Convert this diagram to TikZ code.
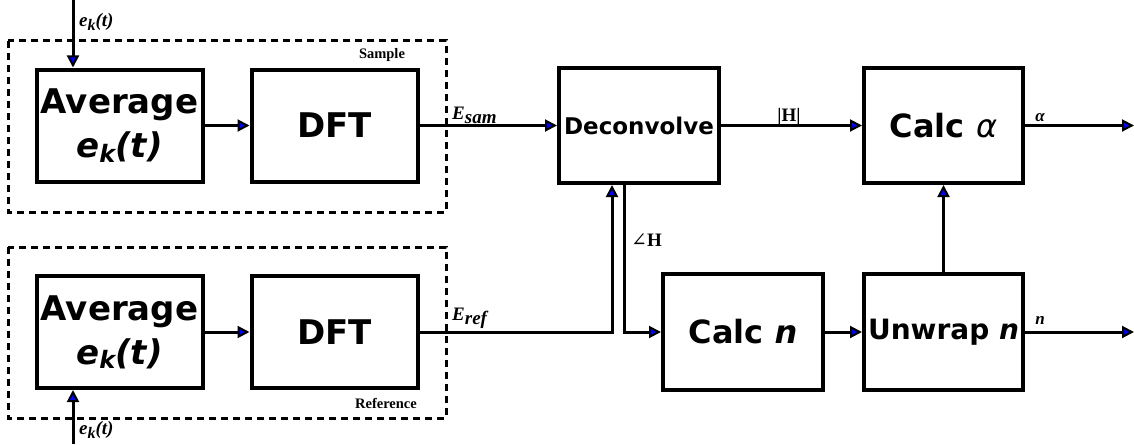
\documentclass[tikz,border=0pt]{standalone}
\usepackage{fontspec}
\setmainfont{Liberation Serif}
\newfontfamily\dv{DejaVu Sans}
\newfontfamily\dvserif{DejaVu Serif}
\usetikzlibrary{arrows.meta,calc}
\begin{document}
\begin{tikzpicture}[x=1pt,y=-1pt,
  blk/.style={draw=black,line width=4pt,minimum width=166pt,minimum height=112pt,inner sep=0pt,align=center,font=\dv\bfseries},
  avgblk/.style={blk,font=\dv\bfseries\fontsize{34}{44}\selectfont},
  conn/.style={line width=3pt,-{Triangle[length=12pt,width=12pt,fill=blue,line width=2pt]}},
  grp/.style={draw=black,line width=3pt,dash pattern=on 7pt off 5pt},
  lbl/.style={font=\bfseries\itshape\fontsize{19}{22}\selectfont,inner sep=0pt},
  small/.style={font=\bfseries\fontsize{14.5}{16}\selectfont,inner sep=0pt}]
\useasboundingbox (0,0) rectangle (1134,444);
% groups
\draw[grp] (8,41) rectangle (446,212);
\draw[grp] (8,247) rectangle (446,418);
% blocks
\node[avgblk] (avg1) at (119.5,125.5) {Average\\\itshape e\raisebox{-0.25ex}{\fontsize{24}{24}\selectfont k}(t)};
\node[blk] (dft1) at (334.5,125.5) {\fontsize{34}{40}\selectfont DFT};
\node[avgblk] (avg2) at (119.5,332) {Average\\\itshape e\raisebox{-0.25ex}{\fontsize{24}{24}\selectfont k}(t)};
\node[blk] (dft2) at (334.5,332) {\fontsize{34}{40}\selectfont DFT};
\node[blk,minimum width=160pt,minimum height=115pt] (dec) at (639,125.5) {\fontsize{23}{28}\selectfont Deconvolve};
\node[blk,minimum width=159pt,minimum height=115pt] (calca) at (943.5,125.5) {\fontsize{32}{38}\selectfont Calc {\mdseries\itshape α}};
\node[blk,minimum width=160pt,minimum height=116pt] (calcn) at (743,332) {\fontsize{32}{38}\selectfont Calc {\itshape n}};
\node[blk,minimum width=159pt,minimum height=116pt] (unw) at (943.5,332) {\fontsize{28}{34}\selectfont Unwrap {\itshape n}};
% coordinates
\coordinate (in1) at (73,0);
\coordinate (in2) at (73,444);
\coordinate (outa) at (1134,125.5);
\coordinate (outn) at (1134,332);
\coordinate (jr) at (612,332);
\coordinate (jh) at (624,332);
% connectors
\draw[conn] (in1) -- (avg1.north -| in1);
\draw[conn] (in2) -- (avg2.south -| in2);
\draw[conn] (avg1) -- (dft1);
\draw[conn] (avg2) -- (dft2);
\draw[conn] (dft1) -- (dec);
\draw[conn] (dft2.east) -- (jr) -- (jr |- dec.south);
\draw[conn] (jh |- dec.south) -- (jh) -- (calcn.west);
\draw[conn] (dec) -- (calca);
\draw[conn] (calcn) -- (unw);
\draw[conn] (unw) -- (calca);
\draw[conn] (calca.east) -- (outa);
\draw[conn] (unw.east) -- (outn);
% labels
\node[lbl,anchor=west] (l1) at (79,22) {e\raisebox{-0.45ex}{\fontsize{16}{16}\selectfont k}(t)};
\node[lbl,anchor=west] (l2) at (79,430) {e\raisebox{-0.45ex}{\fontsize{16}{16}\selectfont k}(t)};
\node[small] (ls) at (382,55) {Sample};
\node[small] (lr) at (386,403) {Reference};
\node[lbl,anchor=west] (le1) at (452,115) {E\raisebox{-0.45ex}{sam}};
\node[lbl,anchor=west] (le2) at (452,318) {E\raisebox{-0.45ex}{ref}};
\node[font=\bfseries\fontsize{19}{22}\selectfont,inner sep=0pt] (lh) at (789,117) {|H|};
\node[font=\fontsize{19}{22}\selectfont,inner sep=0pt,anchor=west] (la) at (631,240) {{\dvserif\mdseries ∠}\textbf{H}};
\node[font=\itshape\bfseries\fontsize{17}{20}\selectfont,inner sep=0pt] (lal) at (1040,118) {α};
\node[font=\itshape\bfseries\fontsize{17}{20}\selectfont,inner sep=0pt] (ln) at (1040,320) {n};
\end{tikzpicture}
\end{document}
